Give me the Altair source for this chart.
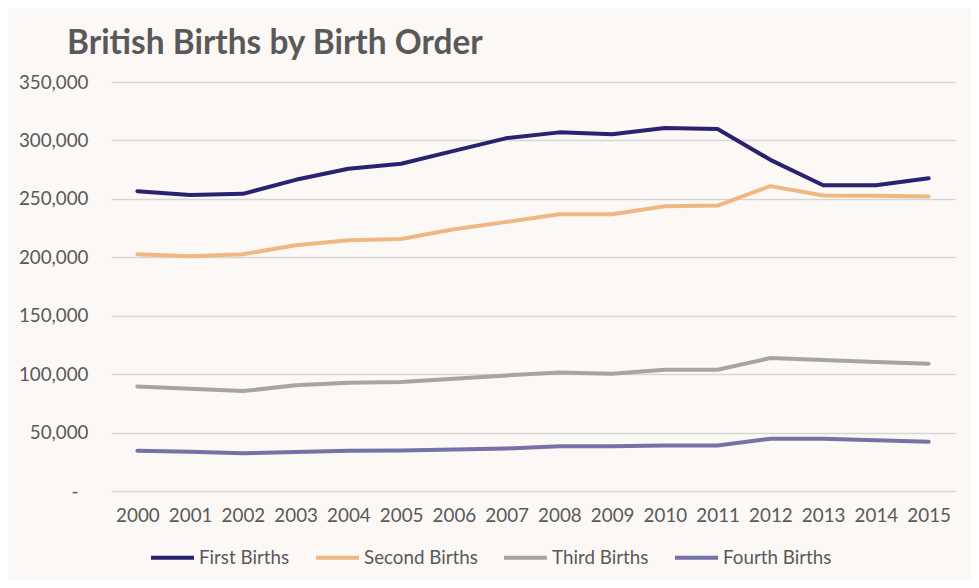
import altair as alt
import pandas as pd

years = [str(y) for y in range(2000, 2016)]
series_names = ["First Births", "Second Births", "Third Births", "Fourth Births"]
first = [256600, 253200, 254300, 266300, 275700, 280000, 291100, 302000, 306900, 305200, 310700, 309800, 283400, 261600, 261600, 267600]
second = [202600, 200900, 202600, 210300, 214600, 215700, 224000, 230300, 236800, 236800, 243700, 244300, 260900, 252900, 252600, 252100]
third = [89500, 87500, 85500, 90400, 92600, 93200, 96000, 98900, 101400, 100300, 103700, 103700, 113800, 112100, 110400, 108800]
fourth = [34400, 33600, 32400, 33300, 34400, 34700, 35500, 36400, 38200, 38200, 39000, 39000, 44700, 44700, 43500, 42200]
colors = ["#28226F", "#EFB882", "#A5A5A5", "#7672A8"]

rows = []
for name, vals in zip(series_names, [first, second, third, fourth]):
    for y, v in zip(years, vals):
        rows.append({"Year": y, "Series": name, "Births": v})
df = pd.DataFrame(rows)

FONT = "Lato"
TXT = "#595959"
FS = 18.8

chart = alt.Chart(df).mark_line(strokeWidth=4, strokeCap="round", strokeJoin="round").encode(
    x=alt.X("Year:O", title=None,
            scale=alt.Scale(type="point", padding=0.5),
            axis=alt.Axis(labelAngle=0, ticks=False, domain=False, grid=False,
                          labelPadding=15, labelFontSize=FS, labelFont=FONT, labelColor=TXT)),
    y=alt.Y("Births:Q", title=None,
            scale=alt.Scale(domain=[0, 350000], nice=False),
            axis=alt.Axis(values=[0, 50000, 100000, 150000, 200000, 250000, 300000, 350000],
                          labelExpr="datum.value == 0 ? '-' : format(datum.value, ',')",
                          ticks=False, domain=False, grid=True, gridColor="#D6D6D6", gridWidth=1.5,
                          labelPadding={"condition": {"test": "datum.value == 0", "value": 33}, "value": 23},
                          labelFontSize=FS, labelFont=FONT, labelColor=TXT)),
    color=alt.Color("Series:N", sort=series_names,
                    scale=alt.Scale(domain=series_names, range=colors),
                    legend=alt.Legend(title=None, orient="none", direction="horizontal", columns=4,
                                      legendX=38, legendY=452,
                                      symbolType="stroke", symbolSize=1849, symbolStrokeWidth=4,
                                      labelFont=FONT, labelFontSize=FS, labelColor=TXT,
                                      labelOffset=3, columnPadding=18)),
).properties(
    width=844, height=409,
    title=alt.TitleParams("British Births by Birth Order", anchor="start", frame="group",
                          font=FONT, fontSize=33.4, fontWeight="bold", color=TXT,
                          dx=-44, dy=44, offset=30, baseline="alphabetic"),
    autosize=alt.AutoSizeParams(type="none"),
    padding={"left": 103, "top": 74, "right": 16, "bottom": 89},
    background="#FCF8F5",
).configure_view(stroke=None)

chart.save("out.html", embed_options={"renderer": "svg", "actions": False})
